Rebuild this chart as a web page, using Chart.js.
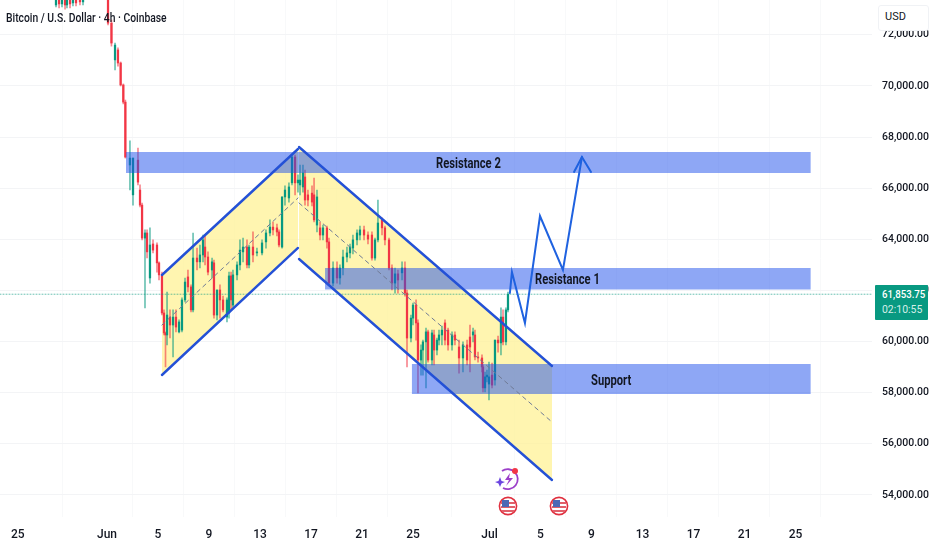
<!DOCTYPE html>
<html>
<head>
<meta charset="utf-8">
<title>Bitcoin / U.S. Dollar 4h</title>
<script src="https://cdn.jsdelivr.net/npm/chart.js@4/dist/chart.umd.min.js"></script>
<style>
  html, body { margin: 0; padding: 0; background: #fff; }
  #wrap { position: relative; width: 932px; height: 550px; overflow: hidden; }
  #wrap canvas { position: absolute; left: 0; top: 0; }
  .txt { position: absolute; white-space: nowrap; color: #131722; font-family: Roboto, sans-serif; transform-origin: left center; }
  .zone { font-size: 14px; font-weight: 700; line-height: 16px; transform: scaleX(.8); }
  #title { left: 6px; top: 10px; font-size: 12px; line-height: 16px; font-weight: 500; transform: scaleX(.86); }
  #usd { position: absolute; left: 878px; top: 5px; width: 51px; height: 26px; background: #fff; border: 1px solid #f0f2f5; border-radius: 3px; box-sizing: border-box; }
  #usdText { left: 885px; top: 10px; font-size: 11px; line-height: 14px; }
  #tag { position: absolute; left: 875px; top: 285px; width: 53px; height: 35px; background: #089981; border-radius: 1px; }
  #tagPrice { left: 882px; top: 288px; font-size: 11px; line-height: 14px; color: #fff; font-weight: 500; transform: scaleX(.88); }
  #tagTime { left: 882px; top: 303px; font-size: 11px; line-height: 14px; color: #d4efe9; transform: scaleX(.95); }
  svg.icon { position: absolute; }
</style>
</head>
<body>
<div id="wrap">
  <canvas id="chart" width="932" height="550"></canvas>
  <div class="txt" id="title">Bitcoin / U.S. Dollar · 4h · Coinbase</div>
  <div class="txt zone" style="left:436px;top:155px">Resistance 2</div>
  <div class="txt zone" style="left:535px;top:271px">Resistance 1</div>
  <div class="txt zone" style="left:591px;top:372px">Support</div>
  <div id="usd"></div>
  <div class="txt" id="usdText">USD</div>
  <div id="tag"></div>
  <div class="txt" id="tagPrice">61,853.75</div>
  <div class="txt" id="tagTime">02:10:55</div>
  <svg class="icon" style="left:494px;top:466px" width="28" height="26" viewBox="0 0 28 26">
    <path d="M8 5 A10 10 0 1 1 9 22" fill="none" stroke="#9c3fc9" stroke-width="1.8"/>
    <path d="M16 7 L11 14 L15 14 L12 20 L19 12 L15 12 Z" fill="#9c3fc9"/>
    <path d="M6 11 L7.5 15 L11 16 L7.5 17.5 L6 21 L4.5 17.5 L1 16 L4.5 15 Z" fill="#6b45e0"/>
    <circle cx="21" cy="5" r="3" fill="#f23645"/>
  </svg>
  <svg class="icon flag" style="left:498px;top:494px" width="20" height="24" viewBox="0 0 20 24">
    <circle cx="10" cy="12" r="8.6" fill="#fff" stroke="#e0303f" stroke-width="1.6"/>
    <rect x="3" y="8" width="14" height="2" fill="#e0606a"/><rect x="3" y="12" width="14" height="2" fill="#e0606a"/><rect x="4" y="16" width="12" height="2" fill="#e0606a"/>
    <rect x="4" y="6" width="7" height="7" fill="#4a69b5"/>
  </svg>
  <svg class="icon flag" style="left:549px;top:494px" width="20" height="24" viewBox="0 0 20 24">
    <circle cx="10" cy="12" r="8.6" fill="#fff" stroke="#e0303f" stroke-width="1.6"/>
    <rect x="3" y="8" width="14" height="2" fill="#e0606a"/><rect x="3" y="12" width="14" height="2" fill="#e0606a"/><rect x="4" y="16" width="12" height="2" fill="#e0606a"/>
    <rect x="4" y="6" width="7" height="7" fill="#4a69b5"/>
  </svg>
</div>
<script>
// x values are days counted from Jun 1
const xTickDays = [-7, 0, 4, 8, 12, 16, 20, 24, 30, 34, 38, 42, 46, 50, 54];
const xTickLabels = ['25', 'Jun', '5', '9', '13', '17', '21', '25', 'Jul', '5', '9', '13', '17', '21', '25'];
const yTickValues = [54000, 56000, 58000, 60000, 62000, 64000, 66000, 68000, 70000, 72000];
const lastPrice = 61853.75;

// 4h candles
const candleDays = [
  -4.00,-3.76,-3.53,-3.29,-3.14,-2.90,-2.67,-2.43,-2.12,-1.88,
  0.08,0.35,0.63,0.86,1.07,1.28,1.44,1.80,2.04,2.43,
  2.59,2.75,2.98,3.14,3.37,3.61,3.92,4.08,4.31,4.47,
  4.59,4.71,4.94,5.18,5.41,5.65,5.88,6.12,6.35,6.59,
  6.75,7.06,7.29,7.53,7.69,7.92,8.24,8.39,8.63,8.86,
  9.10,9.41,9.57,9.73,9.88,10.20,10.43,10.67,10.98,11.14,
  11.45,11.76,12.16,12.47,12.78,13.02,13.33,13.49,13.73,13.96,
  14.27,14.51,14.75,14.98,15.14,15.37,15.53,15.76,16.08,16.24,
  16.47,16.71,16.94,17.25,17.41,17.73,18.04,18.27,18.51,18.82,
  19.06,19.29,19.61,19.84,20.16,20.47,20.78,21.02,21.25,21.57,
  21.80,22.12,22.35,22.59,22.82,23.14,23.37,23.53,23.84,24.00,
  24.24,24.39,24.63,24.78,25.02,25.18,25.49,25.65,25.88,26.04,
  26.27,26.51,26.75,27.06,27.29,27.61,27.92,28.24,28.47,28.71,
  28.86,29.10,29.41,29.49,29.65,29.80,29.96,30.20,30.43,30.67,
  30.90,31.06,31.29,31.45
];
const openPrices = [
  73170,73480,73210,73520,73170,73440,73250,73520,73520,73290,
  73440,72460,71020,71410,70900,70040,69370,66910,65740,67100,
  65930,65340,64050,64250,62490,63820,63780,63080,62610,61120,
  60340,60260,60960,60650,60960,60380,60450,61630,62530,62140,
  61240,63270,63120,63390,63700,63310,62800,63080,61040,62020,
  61630,60960,61120,62570,61430,62610,63000,63510,63700,63000,
  63700,63470,63470,63900,64250,64480,64450,64290,63700,65660,
  65620,66210,67220,66210,66130,66050,66440,65740,65810,65740,
  64560,64450,64170,64450,63900,62290,62880,62490,62880,63310,
  63470,63660,63980,64170,64370,64170,64170,63270,63980,64760,
  64450,63980,62880,62290,62650,62690,62880,61900,60140,60920,
  61430,60730,59280,59670,59990,60380,59280,60260,59670,60060,
  60260,60730,60450,59870,60260,59790,59360,59870,60180,60260,
  60260,59400,59360,59010,58190,58620,58340,58690,58500,60060,
  59950,60960,59990,61240
];
const closePrices = [
  73560,73210,73520,73170,73440,73210,73560,73250,73290,73520,
  72460,71680,71600,70900,70040,69370,67220,67180,67180,66240,
  65340,64050,64250,63510,63780,63580,63080,62610,61120,60340,
  60260,61040,60650,60960,60570,60770,61630,62330,62140,61240,
  63270,63120,63390,63980,63310,62720,63120,61040,62020,61630,
  61240,61630,62570,61630,62610,63000,63580,63700,63000,63700,
  63390,63510,63860,64250,64480,64370,64290,63780,65660,65930,
  66050,67220,66210,66320,66320,66600,65540,65540,65460,64760,
  65660,64170,64450,63900,62290,62880,62490,62880,63310,63470,
  63700,63980,64250,64370,64170,64010,63270,63980,64640,64450,
  63980,62880,62290,62650,62410,62880,61900,60140,60920,61430,
  60730,59280,59670,59990,60380,59280,60340,59670,60060,60260,
  60450,60060,59870,60260,60060,59360,59870,59280,59790,60380,
  59400,59360,59010,58190,58620,58690,58620,58300,60060,59950,
  60960,59990,61240,61853.75
];
const highPrices = [
  73720,73680,73600,73680,73600,73560,73680,73640,73680,73600,
  73600,72580,71680,71490,70940,70080,69450,67850,67180,67570,
  66130,65420,64370,64370,64450,63980,63860,63120,62720,61240,
  60380,61940,61240,61240,61240,60850,61710,62490,62800,62220,
  64250,63660,63780,64170,64170,63510,63270,63190,62020,62220,
  61780,61710,62720,62720,62800,63120,63980,64050,63980,63780,
  64290,63660,63980,64370,64760,64680,64600,64370,65660,66090,
  66210,67300,67300,66520,66910,66910,66710,65930,66090,66400,
  65930,64680,64560,64520,64050,63120,63120,63000,63580,63700,
  63820,64170,64370,64520,64520,64290,64290,64050,65540,64840,
  64520,64050,63000,62880,62800,63120,63120,62020,61040,61510,
  61630,60850,59870,60060,60530,60450,60450,60450,60140,60450,
  60610,60850,60530,60380,60380,60060,59990,60060,60650,60530,
  60450,59590,59480,59090,58810,58890,59200,59160,60060,60220,
  61320,61240,61320,61940
];
const lowPrices = [
  73090,73050,73090,73010,73050,73050,73130,73130,73170,73170,
  72390,71560,70630,70780,70000,69300,67180,65930,65340,66130,
  65270,63980,61320,63270,62290,63470,62720,62410,61040,60260,
  59010,59870,60140,59400,60380,60340,60380,61550,61940,61160,
  61160,62800,62880,63120,63000,62610,62490,60920,60850,60920,
  61160,60770,60920,61240,61350,62410,62800,63120,62880,62880,
  63120,63350,63390,63660,64130,64170,64130,63700,63660,65340,
  65460,66130,65740,65850,65740,65850,65340,65310,65310,64680,
  64290,63980,63980,63660,62220,62180,62290,62250,62610,63120,
  63270,63430,63780,63980,63980,63820,63190,63190,63900,64170,
  63780,62800,62020,61900,61900,62410,61780,59010,59990,60650,
  60060,57990,58690,58690,58190,59200,59090,59090,59480,59870,
  59870,59870,59670,59670,59870,58770,58810,59090,58810,59990,
  59280,59200,58810,58030,58030,58420,57720,58190,58300,59590,
  59480,59870,59870,61160
];

// drawn zones and channels, [day, price]
const resistance2Days = [1.49, 55.2];
const resistance2Top = [67418, 67418];
const resistance2Bottom = [66597, 66597];
const resistance1Days = [17.1, 55.2];
const resistance1Top = [62880, 62880];
const resistance1Bottom = [62039, 62039];
const supportDays = [23.9, 55.2];
const supportTop = [59125, 59125];
const supportBottom = [57951, 57951];
const upChannelDays = [4.31, 14.98];
const upChannelUpper = [62606, 67535];
const upChannelMiddle = [60650, 65619];
const upChannelLower = [58694, 63663];
const downChannelDays = [15.06, 34.9];
const downChannelUpper = [67614, 59046];
const downChannelMiddle = [65423, 56856];
const downChannelLower = [63232, 54587];
const forecastDays = [31.6, 31.76, 32.78, 33.96, 35.76, 37.25];
const forecastPrices = [61902, 62724, 60729, 64914, 62802, 67222];
const arrowDays = [36.63, 37.25, 37.96];
const arrowPrices = [66636, 67222, 66636];

const UP_COLOR = '#089981';
const DOWN_COLOR = '#f23645';
const LINE_BLUE = '#2451d6';
const ARROW_BLUE = '#1f62e0';
const YELLOW = 'rgba(255, 241, 150, 0.75)';
const ZONE_BLUE = 'rgba(30, 80, 235, 0.5)';
const MID_DASH = '#6f7a95';
const GRID = '#f3f4f6';
const GRID_V = '#f8f9fa';
const X_FONT = { family: 'Roboto, sans-serif', size: 12, weight: '500' };
const Y_FONT = { family: 'Roboto, sans-serif', size: 10.5, weight: '500' };

function toPoints(days, prices) {
  return days.map((d, i) => ({ x: d, y: prices[i] }));
}

// filled band between two lines (needs the next dataset as its target)
function fillPair(days, top, bottom, color, order) {
  return [
    { type: 'line', data: toPoints(days, top), borderWidth: 0, backgroundColor: color, fill: '+1', order: order },
    { type: 'line', data: toPoints(days, bottom), borderWidth: 0, fill: false, order: order }
  ];
}

function lineSet(days, prices, color, width, dash) {
  return {
    type: 'line', data: toPoints(days, prices), borderColor: color, borderWidth: width,
    borderDash: dash || [], borderCapStyle: 'round', borderJoinStyle: 'miter', fill: false, tension: 0, order: 1
  };
}

const candleColors = closePrices.map((c, i) => (c >= openPrices[i] ? UP_COLOR : DOWN_COLOR));

const wickSet = {
  type: 'bar',
  data: candleDays.map((d, i) => ({ x: d, y: [lowPrices[i], highPrices[i]] })),
  backgroundColor: candleColors.map(c => c + '99'),
  barThickness: 1, grouped: false, order: 4
};
const bodySet = {
  type: 'bar',
  data: candleDays.map((d, i) => ({ x: d, y: [openPrices[i], closePrices[i]] })),
  backgroundColor: candleColors,
  barThickness: 1.6, grouped: false, order: 3
};

function noAxisPadding(scale) {
  scale.paddingTop = 0;
  scale.paddingBottom = 0;
  scale.paddingLeft = 0;
  scale.paddingRight = 0;
}

new Chart(document.getElementById('chart'), {
  type: 'bar',
  data: {
    datasets: [
      ...fillPair(upChannelDays, upChannelUpper, upChannelLower, YELLOW, 5),
      ...fillPair(downChannelDays, downChannelUpper, downChannelLower, YELLOW, 5),
      wickSet,
      bodySet,
      ...fillPair(resistance2Days, resistance2Top, resistance2Bottom, ZONE_BLUE, 2),
      ...fillPair(resistance1Days, resistance1Top, resistance1Bottom, ZONE_BLUE, 2),
      ...fillPair(supportDays, supportTop, supportBottom, ZONE_BLUE, 2),
      lineSet(upChannelDays, upChannelUpper, LINE_BLUE, 2.4),
      lineSet(upChannelDays, upChannelLower, LINE_BLUE, 2.4),
      lineSet(upChannelDays, upChannelMiddle, MID_DASH, 1, [4, 4]),
      lineSet(downChannelDays, downChannelUpper, LINE_BLUE, 2.4),
      lineSet(downChannelDays, downChannelLower, LINE_BLUE, 2.4),
      lineSet(downChannelDays, downChannelMiddle, MID_DASH, 1, [4, 4]),
      lineSet(forecastDays, forecastPrices, ARROW_BLUE, 2),
      lineSet(arrowDays, arrowPrices, ARROW_BLUE, 2),
      lineSet([-8.392, 60], [lastPrice, lastPrice], 'rgba(8, 153, 129, 0.6)', 1, [1, 2])
    ]
  },
  options: {
    responsive: false,
    animation: false,
    layout: { padding: 0 },
    elements: { point: { radius: 0 } },
    plugins: { legend: { display: false }, tooltip: { enabled: false } },
    events: [],
    scales: {
      x: {
        type: 'linear', min: -8.392, max: 60, offset: false,
        grid: { color: GRID_V, drawTicks: false },
        border: { display: false },
        afterBuildTicks: scale => { scale.ticks = xTickDays.map(v => ({ value: v })); },
        afterFit: scale => { scale.height = 33; noAxisPadding(scale); },
        ticks: {
          autoSkip: false, maxRotation: 0, padding: 11, color: '#131722', font: X_FONT,
          callback: value => xTickLabels[xTickDays.indexOf(value)]
        }
      },
      y: {
        position: 'right', min: 53139, max: 73364,
        grid: { color: GRID, drawTicks: false },
        border: { display: false },
        afterBuildTicks: scale => { scale.ticks = yTickValues.map(v => ({ value: v })); },
        afterFit: scale => { scale.width = 60; noAxisPadding(scale); },
        ticks: {
          padding: 10, color: '#131722', font: Y_FONT,
          callback: value => value.toLocaleString('en-US', { minimumFractionDigits: 2, maximumFractionDigits: 2 })
        }
      }
    }
  }
});
</script>
</body>
</html>
